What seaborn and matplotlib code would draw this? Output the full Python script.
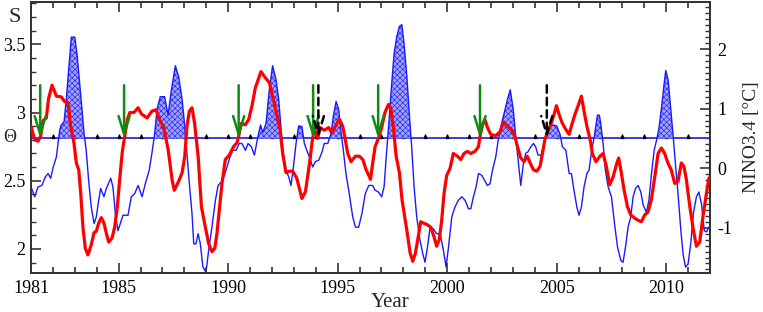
import numpy as np
import matplotlib
matplotlib.use("Agg")
import matplotlib.pyplot as plt
import seaborn as sns
from matplotlib.ticker import MultipleLocator, FixedLocator
from matplotlib.path import Path

# ---------------- data ----------------
red_year = [1981.00, 1981.17, 1981.32, 1981.44, 1981.55, 1981.70, 1981.80, 1981.96, 1982.16, 1982.38,
            1982.54, 1982.69, 1982.81, 1982.96, 1983.07, 1983.18, 1983.27, 1983.37, 1983.48, 1983.60,
            1983.75, 1983.88, 1983.98, 1984.09, 1984.21, 1984.33, 1984.44, 1984.55, 1984.70, 1984.82,
            1984.94, 1985.05, 1985.17, 1985.28, 1985.40, 1985.51, 1985.70, 1985.89, 1986.04, 1986.30,
            1986.52, 1986.71, 1986.86, 1987.06, 1987.26, 1987.44, 1987.54, 1987.74, 1987.90, 1988.02,
            1988.12, 1988.23, 1988.35, 1988.47, 1988.63, 1988.78, 1988.96, 1989.11, 1989.26, 1989.39,
            1989.49, 1989.60, 1989.72, 1989.87, 1990.06, 1990.25, 1990.41, 1990.48, 1990.60, 1990.79,
            1990.94, 1991.09, 1991.24, 1991.50, 1991.70, 1991.88, 1992.06, 1992.22, 1992.37, 1992.49,
            1992.64, 1992.79, 1992.95, 1993.13, 1993.25, 1993.37, 1993.53, 1993.63, 1993.74, 1993.83,
            1993.91, 1994.01, 1994.09, 1994.20, 1994.39, 1994.59, 1994.74, 1994.93, 1995.08, 1995.23,
            1995.35, 1995.46, 1995.61, 1995.81, 1995.99, 1996.15, 1996.30, 1996.45, 1996.50, 1996.60,
            1996.71, 1996.86, 1997.01, 1997.16, 1997.32, 1997.42, 1997.54, 1997.67, 1997.82, 1997.94,
            1998.06, 1998.18, 1998.31, 1998.43, 1998.55, 1998.68, 1998.79, 1998.91, 1999.07, 1999.25,
            1999.40, 1999.52, 1999.64, 1999.75, 1999.86, 1999.98, 2000.13, 2000.28, 2000.47, 2000.62,
            2000.77, 2000.92, 2001.08, 2001.27, 2001.43, 2001.50, 2001.63, 2001.72, 2001.84, 2001.99,
            2002.22, 2002.42, 2002.57, 2002.75, 2002.93, 2003.09, 2003.21, 2003.36, 2003.51, 2003.66,
            2003.79, 2003.94, 2004.09, 2004.24, 2004.35, 2004.46, 2004.58, 2004.73, 2004.88, 2004.99,
            2005.11, 2005.26, 2005.42, 2005.57, 2005.67, 2005.83, 2005.98, 2006.13, 2006.25, 2006.38,
            2006.53, 2006.63, 2006.79, 2006.98, 2007.12, 2007.27, 2007.42, 2007.58, 2007.73, 2007.83,
            2007.95, 2008.08, 2008.23, 2008.38, 2008.57, 2008.72, 2008.87, 2009.02, 2009.17, 2009.32,
            2009.48, 2009.63, 2009.78, 2009.93, 2010.08, 2010.23, 2010.39, 2010.54, 2010.69, 2010.81,
            2010.92, 2011.08, 2011.23, 2011.38, 2011.53, 2011.68, 2011.84, 2011.95]
red_s = [2.90, 2.80, 2.79, 2.826, 2.94, 2.96, 3.10, 3.20, 3.12, 3.115,
         3.08, 3.07, 2.90, 2.78, 2.63, 2.58, 2.41, 2.16, 2.005, 1.956,
         2.03, 2.12, 2.13, 2.19, 2.23, 2.19, 2.115, 2.05, 2.08, 2.16,
         2.31, 2.51, 2.715, 2.826, 2.95, 3.00, 3.00, 3.035, 2.99, 2.96,
         3.01, 3.02, 2.95, 2.89, 2.73, 2.51, 2.43, 2.495, 2.56, 2.68,
         2.90, 3.01, 3.035, 2.92, 2.68, 2.31, 2.16, 2.04, 1.98, 2.005,
         2.115, 2.29, 2.48, 2.655, 2.69, 2.75, 2.78, 2.826, 2.92, 2.91,
         2.95, 3.05, 3.18, 3.30, 3.255, 3.22, 3.10, 2.985, 2.875, 2.70,
         2.56, 2.57, 2.57, 2.52, 2.445, 2.37, 2.42, 2.53, 2.655, 2.78,
         2.86, 2.86, 2.81, 2.89, 2.87, 2.89, 2.85, 2.91, 2.95, 2.90,
         2.80, 2.70, 2.64, 2.68, 2.68, 2.655, 2.58, 2.53, 2.51, 2.63,
         2.75, 2.81, 2.89, 3.00, 3.06, 3.035, 2.90, 2.68, 2.56, 2.36,
         2.24, 2.115, 1.97, 1.91, 1.97, 2.09, 2.20, 2.19, 2.18, 2.16,
         2.09, 2.02, 2.07, 2.21, 2.41, 2.54, 2.59, 2.70, 2.68, 2.655,
         2.70, 2.715, 2.70, 2.715, 2.75, 2.826, 2.92, 2.95, 2.89, 2.84,
         2.83, 2.86, 2.93, 2.90, 2.875, 2.826, 2.75, 2.667, 2.64, 2.68,
         2.63, 2.58, 2.57, 2.605, 2.70, 2.80, 2.86, 2.91, 2.985, 3.05,
         2.985, 2.92, 2.875, 2.84, 2.90, 2.985, 3.05, 3.12, 3.01, 2.90,
         2.80, 2.70, 2.64, 2.68, 2.70, 2.605, 2.47, 2.53, 2.62, 2.667,
         2.56, 2.43, 2.31, 2.25, 2.225, 2.21, 2.20, 2.25, 2.27, 2.36,
         2.53, 2.70, 2.74, 2.70, 2.63, 2.58, 2.48, 2.495, 2.63, 2.605,
         2.51, 2.31, 2.15, 2.02, 2.05, 2.24, 2.41, 2.52]

nino_year = [1981.00, 1981.17, 1981.32, 1981.50, 1981.65, 1981.78, 1981.90, 1982.00, 1982.16, 1982.31,
             1982.38, 1982.51, 1982.61, 1982.72, 1982.84, 1983.00, 1983.11, 1983.22, 1983.33, 1983.42,
             1983.52, 1983.63, 1983.75, 1983.88, 1983.98, 1984.09, 1984.18, 1984.33, 1984.44, 1984.64,
             1984.74, 1984.85, 1984.97, 1985.10, 1985.20, 1985.43, 1985.58, 1985.73, 1985.89, 1986.07,
             1986.22, 1986.40, 1986.52, 1986.65, 1986.75, 1986.90, 1987.10, 1987.26, 1987.41, 1987.59,
             1987.74, 1987.90, 1988.02, 1988.12, 1988.23, 1988.35, 1988.43, 1988.53, 1988.63, 1988.73,
             1988.85, 1988.99, 1989.11, 1989.26, 1989.42, 1989.54, 1989.69, 1989.80, 1989.95, 1990.06,
             1990.21, 1990.36, 1990.51, 1990.63, 1990.79, 1990.91, 1991.06, 1991.20, 1991.36, 1991.48,
             1991.58, 1991.73, 1991.88, 1992.03, 1992.19, 1992.31, 1992.42, 1992.52, 1992.64, 1992.77,
             1992.87, 1992.98, 1993.10, 1993.22, 1993.37, 1993.48, 1993.59, 1993.71, 1993.86, 1993.98,
             1994.14, 1994.29, 1994.39, 1994.55, 1994.70, 1994.80, 1994.93, 1995.05, 1995.16, 1995.26,
             1995.38, 1995.53, 1995.69, 1995.81, 1995.96, 1996.11, 1996.26, 1996.42, 1996.60, 1996.71,
             1996.86, 1997.01, 1997.12, 1997.24, 1997.36, 1997.47, 1997.58, 1997.70, 1997.82, 1997.93,
             1998.03, 1998.16, 1998.27, 1998.38, 1998.49, 1998.61, 1998.76, 1998.89, 1998.99, 1999.10,
             1999.22, 1999.37, 1999.52, 1999.68, 1999.83, 1999.95, 2000.06, 2000.21, 2000.36, 2000.51,
             2000.67, 2000.82, 2000.97, 2001.08, 2001.20, 2001.32, 2001.43, 2001.58, 2001.70, 2001.84,
             2001.96, 2002.07, 2002.22, 2002.33, 2002.45, 2002.60, 2002.75, 2002.88, 2003.02, 2003.13,
             2003.24, 2003.36, 2003.48, 2003.59, 2003.69, 2003.82, 2003.94, 2004.04, 2004.15, 2004.30,
             2004.42, 2004.55, 2004.70, 2004.85, 2005.00, 2005.16, 2005.26, 2005.42, 2005.57, 2005.67,
             2005.79, 2005.92, 2006.02, 2006.13, 2006.25, 2006.38, 2006.48, 2006.58, 2006.74, 2006.86,
             2006.95, 2007.01, 2007.12, 2007.22, 2007.35, 2007.50, 2007.66, 2007.78, 2007.93, 2008.03,
             2008.14, 2008.26, 2008.38, 2008.49, 2008.60, 2008.72, 2008.84, 2008.95, 2009.10, 2009.21,
             2009.33, 2009.45, 2009.56, 2009.67, 2009.79, 2009.91, 2009.98, 2010.09, 2010.21, 2010.32,
             2010.42, 2010.54, 2010.67, 2010.77, 2010.88, 2011.00, 2011.12, 2011.24, 2011.38, 2011.49,
             2011.61, 2011.74, 2011.84, 2011.95]
nino_val = [-0.315, -0.48, -0.315, -0.29, -0.15, -0.09, -0.17, 0.00, 0.19, 0.64,
            0.725, 0.78, 1.15, 1.65, 2.20, 2.20, 1.88, 1.43, 0.98, 0.585,
            0.30, -0.20, -0.65, -0.93, -0.82, -0.54, -0.34, -0.48, -0.34, -0.17,
            -0.315, -0.76, -1.05, -0.905, -0.79, -0.79, -0.48, -0.43, -0.29, -0.48,
            -0.26, -0.03, 0.25, 0.585, 0.98, 1.20, 1.20, 0.89, 1.315, 1.72,
            1.54, 1.15, 0.70, 0.25, -0.26, -0.76, -1.27, -1.27, -1.10, -1.27,
            -1.66, -1.75, -1.38, -0.99, -0.54, -0.29, -0.23, -0.15, 0.02, 0.16,
            0.30, 0.30, 0.415, 0.415, 0.30, 0.415, 0.36, 0.22, 0.53, 0.725,
            0.60, 0.75, 1.315, 1.72, 1.48, 1.15, 0.64, 0.25, -0.03, -0.15,
            -0.29, 0.02, 0.415, 0.71, 0.70, 0.415, 0.30, 0.19, 0.02, 0.11,
            0.135, 0.275, 0.415, 0.415, 0.585, 0.865, 1.12, 0.98, 0.585, 0.30,
            -0.09, -0.43, -0.82, -0.99, -0.99, -0.76, -0.43, -0.29, -0.29, -0.37,
            -0.40, -0.48, -0.315, 0.30, 0.865, 1.43, 1.93, 2.21, 2.38, 2.41,
            2.10, 1.54, 0.92, 0.36, -0.315, -0.82, -1.21, -1.44, -1.58, -1.33,
            -0.99, -1.02, -1.10, -1.10, -1.38, -1.66, -1.33, -0.82, -0.65, -0.54,
            -0.48, -0.54, -0.68, -0.68, -0.48, -0.315, -0.09, -0.12, -0.20, -0.29,
            -0.26, -0.03, 0.19, 0.47, 0.70, 0.92, 1.15, 1.315, 0.98, 0.53,
            0.135, -0.29, 0.08, 0.25, 0.275, 0.36, 0.415, 0.36, 0.22, 0.22,
            0.415, 0.585, 0.70, 0.725, 0.71, 0.56, 0.36, 0.30, -0.09, -0.09,
            -0.37, -0.65, -0.79, -0.65, -0.315, -0.09, -0.03, 0.25, 0.585, 0.89,
            0.89, 0.75, 0.415, -0.03, -0.315, -0.48, -0.99, -1.33, -1.55, -1.58,
            -1.33, -0.99, -0.82, -0.48, -0.34, -0.29, -0.40, -0.62, -0.74, -0.54,
            -0.09, 0.30, 0.47, 0.67, 1.03, 1.43, 1.64, 1.48, 0.98, 0.53,
            0.08, -0.43, -1.05, -1.44, -1.66, -1.61, -1.27, -0.76, -0.48, -0.40,
            -0.60, -1.05, -1.07, -0.99]

green_arrow_years = [1981.42, 1985.25, 1990.48, 1993.88, 1996.85, 2001.50]
black_arrow_years = [1994.12, 2004.55]
marker_years = list(range(1982, 2012))
xtick_labels = [1981, 1985, 1990, 1995, 2000, 2005, 2010]
s_ticks = [2.0, 2.5, 3.0, 3.5]
nino_ticks = [-1, 0, 1, 2]
threshold = 0.5

# ---------------- style ----------------
sns.set_style("ticks")
plt.rcParams["font.family"] = ["Liberation Serif", "DejaVu Serif"]
plt.rcParams["hatch.linewidth"] = 0.5

fig = plt.figure(figsize=(7.63, 3.12), dpi=100)
ax = fig.add_axes([31 / 763, 1 - 273 / 312, 679 / 763, 271 / 312])
ax2 = ax.twinx()

s_lim = (1.824, 3.81)
n_lim = (-1.76, 2.79)
ax.set_xlim(1981, 2012)
ax.set_ylim(*s_lim)
ax2.set_ylim(*n_lim)

# NINO series + fill (on twin axis, drawn below)
ax2.axhline(threshold, color="#3a3ae6", lw=1.4, zorder=1)
mk = Path([(-0.5, 0), (0.5, 0), (0, 1.2), (-0.5, 0)])
ax2.plot(marker_years, [threshold] * len(marker_years), linestyle="none",
         marker=mk, markersize=5, color="black", zorder=1.5)
nx = np.array(nino_year)
ny = np.array(nino_val)
ax2.fill_between(nx, ny, threshold, where=ny > threshold, interpolate=True,
                 facecolor="#a4a4f8", edgecolor="#2a2aff", hatch="xxxxxx", linewidth=0, zorder=2)
sns.lineplot(x=nino_year, y=nino_val, ax=ax2, color="#1a1aff", lw=1.0,
             estimator=None, sort=False, zorder=3)

# S series (main axis, on top)
ax.set_zorder(ax2.get_zorder() + 1)
ax.patch.set_visible(False)
sns.lineplot(x=red_year, y=red_s, ax=ax, color="#ff0000", lw=2.3,
             estimator=None, sort=False, zorder=4)

# arrows
s_theta = s_lim[0] + (threshold - n_lim[0]) / (n_lim[1] - n_lim[0]) * (s_lim[1] - s_lim[0])
for yr in green_arrow_years:
    ax.annotate("", xy=(yr, s_theta), xytext=(yr, 3.2),
                arrowprops=dict(arrowstyle="->,head_length=1.3,head_width=0.4",
                                color="#108a10", lw=1.8, mutation_scale=10,
                                shrinkA=0, shrinkB=0), zorder=6)
for yr in black_arrow_years:
    ax.annotate("", xy=(yr, s_theta), xytext=(yr, 3.2),
                arrowprops=dict(arrowstyle="->,head_length=1.3,head_width=0.4",
                                color="black", lw=1.8, linestyle=(0, (3, 2)),
                                mutation_scale=10, shrinkA=0, shrinkB=0), zorder=6)

# ticks
ax.xaxis.set_major_locator(FixedLocator(xtick_labels))
ax.set_xticklabels([str(v) for v in xtick_labels])
ax.xaxis.set_minor_locator(MultipleLocator(1))
ax.yaxis.set_major_locator(FixedLocator(s_ticks))
ax.set_yticklabels(["2", "2.5", "3", "3.5"])
ax.yaxis.set_minor_locator(MultipleLocator(0.1))
ax2.yaxis.set_major_locator(FixedLocator(nino_ticks))
ax2.set_yticklabels(["-1", "0", "1", "2"])
ax2.yaxis.set_minor_locator(MultipleLocator(0.1))

for a in (ax, ax2):
    for sp in a.spines.values():
        sp.set_visible(True)
        sp.set_linewidth(1.3)
        sp.set_color("#333333")
ax.tick_params(axis="x", which="both", direction="in", top=True, bottom=True,
               labelsize=13, pad=5, colors="#333333", labelcolor="black")
ax.tick_params(axis="x", which="major", length=7, width=1.2)
ax.tick_params(axis="x", which="minor", length=4, width=1.2)
ax.tick_params(axis="y", which="both", direction="in", left=True, right=False,
               labelsize=13, pad=4, colors="#333333", labelcolor="black")
ax.tick_params(axis="y", which="major", length=7, width=1.2)
ax.tick_params(axis="y", which="minor", length=3.5, width=1.0)
ax2.tick_params(axis="y", which="both", direction="in", labelsize=13, pad=5,
                colors="#333333", labelcolor="black")
ax2.tick_params(axis="y", which="major", length=7, width=1.2)
ax2.tick_params(axis="y", which="minor", length=3.5, width=1.0)

ax.set_xlabel("Year", fontsize=15, labelpad=-3, x=(390 - 31) / 679)
ax.set_ylabel("")
ax2.set_ylabel("NINO3.4 [°C]", fontsize=14, labelpad=8)

fig.text(15 / 763, 1 - 17 / 312, "S", fontsize=16, ha="center", va="center")
fig.text(10 / 763, 1 - 137 / 312, "Θ", fontsize=13, ha="center", va="center")

fig.savefig("out.png", dpi=100)
